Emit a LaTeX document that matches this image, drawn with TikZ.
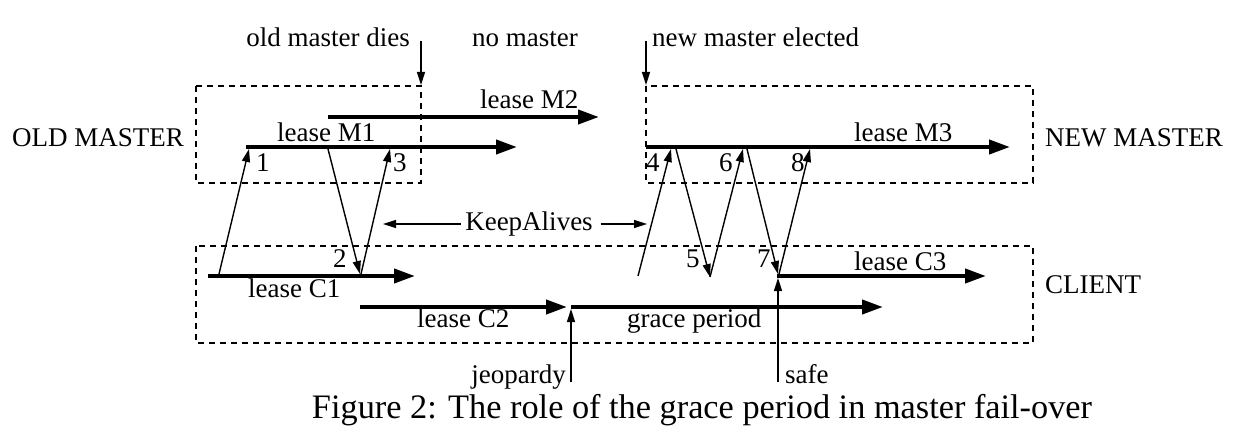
\documentclass[tikz,border=0pt]{standalone}
\usepackage{fontspec}
\setmainfont{Liberation Serif}
\usetikzlibrary{arrows.meta}
\begin{document}
\begin{tikzpicture}[x=1pt,y=-1pt,
  lease/.style={line width=4pt,-{Triangle[length=21pt,width=14pt]}},
  msg/.style={line width=1.4pt,-{Triangle[length=13pt,width=8pt]}},
  region/.style={draw,line width=1.2pt,dash pattern=on 6pt off 5pt},
  lbl/.style={font=\fontsize{27}{31}\selectfont,inner sep=0pt,anchor=base west},
  captxt/.style={font=\fontsize{34.3}{38}\selectfont,inner sep=0pt,anchor=base}]
\useasboundingbox (0,0) rectangle (1236,438);

% regions
\draw[region] (196,86) rectangle (421,183);
\draw[region] (646,86) rectangle (1033,183);
\draw[region] (196,246) rectangle (1033,343);

% side labels
\node[lbl] (oldm) at (12,147) {OLD MASTER};
\node[lbl] (newm) at (1045,147) {NEW MASTER};
\node[lbl] (cli) at (1045,293) {CLIENT};

% top labels
\node[lbl,anchor=base east] (dies) at (410,47) {old master dies};
\node[lbl,anchor=base] (nom) at (525,47) {no master};
\node[lbl] (elect) at (652,47) {new master elected};
\coordinate (diesA) at (421,41);
\coordinate (diesB) at (421,85);
\coordinate (electA) at (646,41);
\coordinate (electB) at (646,85);
\draw[msg] (diesA) -- (diesB);
\draw[msg] (electA) -- (electB);

% lease lines
\coordinate (m2s) at (328,117); \coordinate (m2e) at (599,117);
\coordinate (m1s) at (246,147); \coordinate (m1e) at (517,147);
\coordinate (m3s) at (646,147); \coordinate (m3e) at (1010,147);
\coordinate (c1s) at (208,276); \coordinate (c1e) at (415,276);
\coordinate (c2s) at (360,307); \coordinate (c2e) at (567,307);
\coordinate (gps) at (571,307); \coordinate (gpe) at (883,307);
\coordinate (c3s) at (777,276); \coordinate (c3e) at (986,276);
\draw[lease] (m2s) -- (m2e);
\draw[lease] (m1s) -- (m1e);
\draw[lease] (m3s) -- (m3e);
\draw[lease] (c1s) -- (c1e);
\draw[lease] (c2s) -- (c2e);
\draw[lease] (gps) -- (gpe);
\draw[lease] (c3s) -- (c3e);

\node[lbl] (lm2) at (480,109) {lease M2};
\node[lbl] (lm1) at (277,142) {lease M1};
\node[lbl] (lm3) at (854,142) {lease M3};
\node[lbl] (lc1) at (248,297) {lease C1};
\node[lbl] (lc2) at (417,327) {lease C2};
\node[lbl] (lgp) at (627,327) {grace period};
\node[lbl] (lc3) at (854,270) {lease C3};

% messages
\coordinate (a1) at (219,274); \coordinate (b1) at (249,149);
\coordinate (a2) at (328,149); \coordinate (b2) at (360,274);
\coordinate (a3) at (361,274); \coordinate (b3) at (390,149);
\coordinate (a4) at (638,276); \coordinate (b4) at (671,149);
\coordinate (a5) at (676,149); \coordinate (b5) at (710,277);
\coordinate (a6) at (710,277); \coordinate (b6) at (743,149);
\coordinate (a7) at (747,149); \coordinate (b7) at (778,274);
\coordinate (a8) at (779,274); \coordinate (b8) at (810,149);
\foreach \i in {1,...,8} {\draw[msg] (a\i) -- (b\i);}

\node[lbl] (n1) at (256,172) {1};
\node[lbl] (n2) at (333,268) {2};
\node[lbl] (n3) at (393,172) {3};
\node[lbl] (n4) at (646,172) {4};
\node[lbl] (n5) at (686,268) {5};
\node[lbl] (n6) at (719,172) {6};
\node[lbl] (n7) at (757,268) {7};
\node[lbl] (n8) at (791,172) {8};

% keepalives
\node[lbl,anchor=base,inner xsep=4pt] (ka) at (529,231) {KeepAlives};
\coordinate (kaL) at (383,224);
\coordinate (kaR) at (647,224);
\draw[msg] (ka.west |- kaL) -- (kaL);
\draw[msg] ([xshift=4pt]ka.east |- kaR) -- (kaR);

% jeopardy / safe
\node[lbl,anchor=base east] (jeo) at (566,383) {jeopardy};
\node[lbl] (safe) at (785,383) {safe};
\coordinate (jA) at (571,382); \coordinate (jB) at (571,309);
\coordinate (sA) at (778,382); \coordinate (sB) at (778,278);
\draw[msg] (jA) -- (jB);
\draw[msg] (sA) -- (sB);

% caption
\node[captxt] (caption) at (702,418) {Figure 2: The role of the grace period in master fail-over};
\end{tikzpicture}
\end{document}
